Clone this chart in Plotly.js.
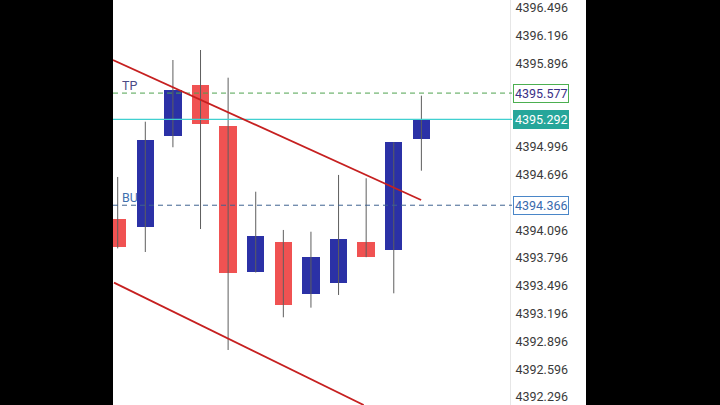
<!DOCTYPE html>
<html>
<head>
<meta charset="utf-8">
<script src="https://cdn.plot.ly/plotly-3.0.1.min.js"></script>
<style>html,body{margin:0;padding:0;background:#000;}#chart{width:720px;height:405px;}</style>
</head>
<body>
<div id="chart"></div>
<script>
// Candle data (index 0 = leftmost, partially clipped)
const candleIndex = [0,1,2,3,4,5,6,7,8,9,10,11];
const openP  = [4394.217, 4394.128, 4395.117, 4395.665, 4395.222, 4393.648, 4393.972, 4393.411, 4393.526, 4393.972, 4393.883, 4395.081];
const closeP = [4393.915, 4395.071, 4395.611, 4395.247, 4393.638, 4394.034, 4393.289, 4393.810, 4393.998, 4393.810, 4395.046, 4395.292];
const highP  = [4394.671, 4395.268, 4395.934, 4396.042, 4395.743, 4394.512, 4394.099, 4394.080, 4394.693, 4394.657, 4395.046, 4395.549];
const lowP   = [4393.900, 4393.861, 4394.992, 4394.109, 4392.803, 4393.640, 4393.156, 4393.260, 4393.397, 4393.805, 4393.415, 4394.739];

// Price levels
const tpLevel = 4395.577;
const currentLevel = 4395.292;
const buLevel = 4394.366;

// Trend channel lines [x0, x1], [y0, y1] in index / price
const upperChannelX = [-0.17, 10.99];
const upperChannelY = [4395.934, 4394.423];
const lowerChannelX = [-0.134, 8.91];
const lowerChannelY = [4393.530, 4392.209];

// Axis tick labels
const tickValues = [4396.496, 4396.196, 4395.896, 4394.996, 4394.696, 4394.096, 4393.796, 4393.496, 4393.196, 4392.896, 4392.596, 4392.296];
const tickLabels = tickValues.map(v => v.toFixed(3));

const upColor = '#2B31A6';
const downColor = '#F05252';

const wickX = [], wickY = [];
candleIndex.forEach((x, i) => { wickX.push(x, x, null); wickY.push(lowP[i], highP[i], null); });

const wicks = {
  type: 'scatter', mode: 'lines', x: wickX, y: wickY,
  line: {color: '#5e5e5e', width: 1}, hoverinfo: 'skip', showlegend: false
};
const bodies = {
  type: 'bar', x: candleIndex,
  base: candleIndex.map(i => Math.min(openP[i], closeP[i])),
  y: candleIndex.map(i => Math.abs(closeP[i] - openP[i])),
  width: 0.63,
  marker: {color: candleIndex.map(i => closeP[i] >= openP[i] ? upColor : downColor), line: {width: 0}},
  showlegend: false, hoverinfo: 'skip'
};

const plotW = 397;
const boxX = (513 - 113) / plotW;
const font = 'Roboto, "Noto Sans", sans-serif';

const layout = {
  width: 720, height: 405,
  margin: {l: 113, r: 210, t: 0, b: 0},
  paper_bgcolor: '#000000',
  plot_bgcolor: '#ffffff',
  showlegend: false,
  bargap: 0,
  font: {family: font, color: '#333333', size: 12.5},
  xaxis: {range: [-0.17, 14.21], visible: false, fixedrange: true},
  yaxis: {
    range: [4392.209, 4396.582], side: 'right', showgrid: false, zeroline: false,
    showline: true, linecolor: '#e6e6e6', linewidth: 1, ticks: '',
    tickvals: tickValues, ticktext: tickLabels,
    tickfont: {family: font, size: 12.5, color: '#3a3a3a'}, ticklabelstandoff: 2
  },
  shapes: [
    {type: 'rect', xref: 'paper', yref: 'paper', x0: 0, x1: (586 - 113) / plotW, y0: 0, y1: 1,
     fillcolor: '#ffffff', line: {width: 0}, layer: 'below'},
    {type: 'line', xref: 'paper', yref: 'y', x0: 0, x1: 1.005, y0: tpLevel, y1: tpLevel,
     line: {color: '#4fa24f', width: 1, dash: '5px,4px'}},
    {type: 'line', xref: 'paper', yref: 'y', x0: 0, x1: 1.005, y0: currentLevel, y1: currentLevel,
     line: {color: '#40d0d0', width: 1.2}},
    {type: 'line', xref: 'paper', yref: 'y', x0: 0, x1: 1.005, y0: buLevel, y1: buLevel,
     line: {color: '#3f6391', width: 1, dash: '5px,4px'}},
    {type: 'line', xref: 'x', yref: 'y', x0: upperChannelX[0], x1: upperChannelX[1], y0: upperChannelY[0], y1: upperChannelY[1],
     line: {color: '#C62020', width: 1.8}},
    {type: 'line', xref: 'x', yref: 'y', x0: lowerChannelX[0], x1: lowerChannelX[1], y0: lowerChannelY[0], y1: lowerChannelY[1],
     line: {color: '#C62020', width: 1.8}}
  ],
  annotations: [
    {xref: 'paper', yref: 'y', x: (120 - 113) / plotW, y: tpLevel, yshift: 8, xanchor: 'left', yanchor: 'middle',
     text: 'TP', showarrow: false, font: {family: font, size: 12.5, color: '#4a4a86'}},
    {xref: 'paper', yref: 'y', x: (120 - 113) / plotW, y: buLevel, yshift: 8, xanchor: 'left', yanchor: 'middle',
     text: 'BU', showarrow: false, font: {family: font, size: 12.5, color: '#3f6fae'}},
    {xref: 'paper', yref: 'y', x: boxX, y: tpLevel, xanchor: 'left', yanchor: 'middle',
     text: tpLevel.toFixed(3), showarrow: false, bgcolor: '#ffffff', bordercolor: '#4caf50', borderwidth: 1, borderpad: 1,
     font: {family: font, size: 12.5, color: '#3b2f86'}},
    {xref: 'paper', yref: 'y', x: boxX, y: currentLevel, xanchor: 'left', yanchor: 'middle',
     text: currentLevel.toFixed(3), showarrow: false, bgcolor: '#26a69a', bordercolor: '#26a69a', borderwidth: 1, borderpad: 1,
     font: {family: font, size: 12.5, color: '#ffffff'}},
    {xref: 'paper', yref: 'y', x: boxX, y: buLevel, xanchor: 'left', yanchor: 'middle',
     text: buLevel.toFixed(3), showarrow: false, bgcolor: '#ffffff', bordercolor: '#4a86c8', borderwidth: 1, borderpad: 1,
     font: {family: font, size: 12.5, color: '#3a6aad'}}
  ]
};

Plotly.newPlot('chart', [wicks, bodies], layout, {displayModeBar: false, staticPlot: true});
</script>
</body>
</html>
